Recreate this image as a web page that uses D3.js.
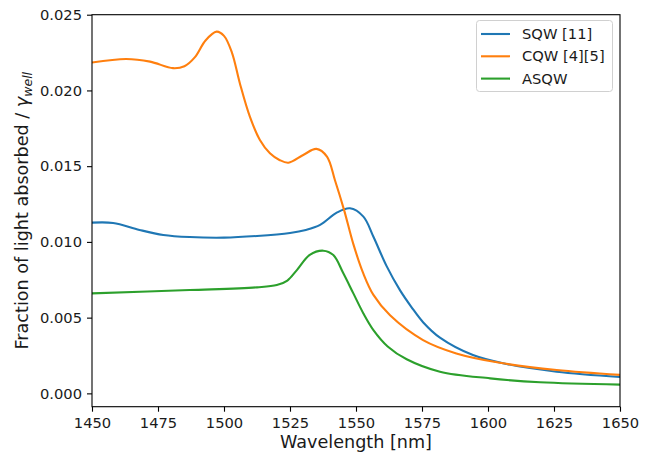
<!DOCTYPE html>
<html>
<head>
<meta charset="utf-8">
<script src="https://cdn.jsdelivr.net/npm/d3@7"></script>
<style>
  body { margin: 0; background: #fff; }
  svg { font-family: "DejaVu Sans", sans-serif; }
</style>
</head>
<body>
<div id="chart"></div>
<script>
// Data (wavelength nm, fraction absorbed)
const sqwWl = [1450, 1458, 1468, 1477, 1487, 1500, 1512.5, 1525, 1531, 1536.4, 1542.7, 1547.7, 1552.8, 1556.6, 1561.6, 1566.7, 1571, 1575.4, 1581.8, 1594.3, 1607, 1626, 1650];
const sqwVal = [0.01127, 0.01125, 0.01079, 0.01046, 0.01032, 0.01028, 0.01039, 0.01059, 0.01079, 0.01112, 0.01193, 0.01222, 0.01167, 0.01034, 0.0084, 0.0068, 0.0057, 0.0047, 0.00368, 0.00253, 0.00194, 0.00143, 0.00108];

const cqwWl = [1450, 1463, 1472, 1480.7, 1485, 1489, 1493, 1497.2, 1500, 1503, 1506, 1509.8, 1513.6, 1517.4, 1521, 1524.4, 1530, 1535, 1539, 1542, 1545.5, 1549, 1552.8, 1556.6, 1562.9, 1575.4, 1588, 1604.5, 1626, 1650];
const cqwVal = [0.02184, 0.02208, 0.0219, 0.02147, 0.0216, 0.0222, 0.0233, 0.02388, 0.0236, 0.0225, 0.02048, 0.01827, 0.01673, 0.01585, 0.01541, 0.01523, 0.01574, 0.01614, 0.01563, 0.01409, 0.0121, 0.00985, 0.0079, 0.0065, 0.00515, 0.00352, 0.00264, 0.00202, 0.00154, 0.00122];

const asqwWl = [1450, 1487, 1512.5, 1520, 1524, 1527.6, 1532.5, 1537.6, 1541.4, 1545.2, 1549, 1552.8, 1556.6, 1562, 1569.2, 1581.8, 1600.8, 1619.7, 1650];
const asqwVal = [0.0066, 0.00682, 0.0070, 0.00715, 0.00745, 0.00814, 0.00914, 0.00942, 0.00913, 0.00793, 0.0066, 0.00528, 0.00418, 0.0031, 0.00225, 0.00143, 0.00099, 0.00073, 0.00058];

const seriesNames = ["SQW [11]", "CQW [4][5]", "ASQW"];
const seriesColors = ["#1f77b4", "#ff7f0e", "#2ca02c"];
const xTicks = [1450, 1475, 1500, 1525, 1550, 1575, 1600, 1625, 1650];
const yTicks = [0, 0.005, 0.01, 0.015, 0.02, 0.025];

const series = [
  { name: seriesNames[0], color: seriesColors[0], pts: sqwWl.map((w, i) => [w, sqwVal[i]]) },
  { name: seriesNames[1], color: seriesColors[1], pts: cqwWl.map((w, i) => [w, cqwVal[i]]) },
  { name: seriesNames[2], color: seriesColors[2], pts: asqwWl.map((w, i) => [w, asqwVal[i]]) }
];

const width = 651, height = 456;
const mLeft = 92, mRight = 620, mTop = 14.7, mBottom = 406.7;
const fs = 14.7;     // tick and legend text
const labelFs = 17.6; // axis labels

const svg = d3.select("#chart").append("svg")
  .attr("width", width)
  .attr("height", height);

const x = d3.scaleLinear().domain([1450, 1650]).range([mLeft, mRight]);
const y = d3.scaleLinear().domain([-0.00088, 0.025]).range([mBottom, mTop]);

// Lines
const line = d3.line()
  .x(d => x(d[0]))
  .y(d => y(d[1]))
  .curve(d3.curveCatmullRom.alpha(0.5));

svg.append("defs").append("clipPath").attr("id", "clip")
  .append("rect").attr("x", mLeft).attr("y", mTop)
  .attr("width", mRight - mLeft).attr("height", mBottom - mTop);

svg.append("g").attr("clip-path", "url(#clip)")
  .selectAll("path")
  .data(series)
  .enter().append("path")
  .attr("d", d => line(d.pts))
  .attr("fill", "none")
  .attr("stroke", d => d.color)
  .attr("stroke-width", 2.1)
  .attr("stroke-linejoin", "round");

// Axes
const xAxis = d3.axisBottom(x).tickValues(xTicks).tickSize(5).tickPadding(5).tickFormat(d3.format("d"));
const yAxis = d3.axisLeft(y).tickValues(yTicks).tickSize(5).tickPadding(5).tickFormat(d3.format(".3f"));

const gx = svg.append("g")
  .attr("transform", "translate(0," + mBottom + ")")
  .call(xAxis);
const gy = svg.append("g")
  .attr("transform", "translate(" + mLeft + ",0)")
  .call(yAxis);

[gx, gy].forEach(g => {
  g.select(".domain").remove();
  g.selectAll(".tick line").attr("stroke", "#000").attr("stroke-width", 1.1);
  g.selectAll(".tick text")
    .attr("fill", "#1a1a1a")
    .style("font-size", fs + "px")
    .style("font-family", "DejaVu Sans");
});
gx.selectAll(".tick text").attr("dy", "0.76em");

// Frame
svg.append("rect")
  .attr("x", mLeft).attr("y", mTop)
  .attr("width", mRight - mLeft).attr("height", mBottom - mTop)
  .attr("fill", "none")
  .attr("stroke", "#000")
  .attr("stroke-width", 1.1);

// Axis labels
svg.append("text")
  .attr("x", (mLeft + mRight) / 2)
  .attr("y", 448)
  .attr("text-anchor", "middle")
  .attr("fill", "#1a1a1a")
  .style("font-size", labelFs + "px")
  .text("Wavelength [nm]");

const yl = svg.append("text")
  .attr("transform", "translate(28," + ((mTop + mBottom) / 2) + ") rotate(-90)")
  .attr("text-anchor", "middle")
  .attr("fill", "#1a1a1a")
  .style("font-size", labelFs + "px");
yl.append("tspan").text("Fraction of light absorbed / ");
yl.append("tspan").attr("font-style", "italic").text("γ");
yl.append("tspan").attr("font-style", "italic").attr("dy", 3.5).style("font-size", "12.5px").text("well");

// Legend
const lg = svg.append("g");
lg.append("rect")
  .attr("x", 476.5).attr("y", 20.5)
  .attr("width", 136).attr("height", 71)
  .attr("rx", 3)
  .attr("fill", "#fff")
  .attr("fill-opacity", 0.8)
  .attr("stroke", "#d0d0d0");

const rows = lg.selectAll("g.row")
  .data(series)
  .enter().append("g")
  .attr("transform", (d, i) => "translate(0," + (34 + i * 22.3) + ")");
rows.append("line")
  .attr("x1", 481).attr("x2", 510)
  .attr("stroke", d => d.color)
  .attr("stroke-width", 2.1);
rows.append("text")
  .attr("x", 522)
  .attr("dy", "0.35em")
  .attr("fill", "#1a1a1a")
  .style("font-size", fs + "px")
  .text(d => d.name);
</script>
</body>
</html>
